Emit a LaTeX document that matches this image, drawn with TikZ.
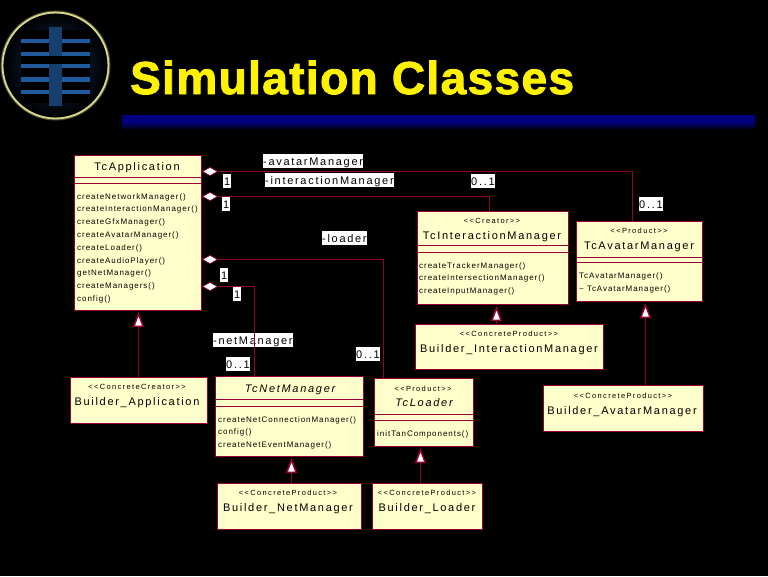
\documentclass[tikz,border=0pt]{standalone}
\usepackage{fontspec}
\usepackage{xcolor}
\usetikzlibrary{shapes.geometric, arrows.meta}
\setmainfont{Liberation Sans}
\newfontfamily\titlefont[LetterSpace=3,BoldFeatures={FakeBold=2}]{Liberation Sans}
\newfontfamily\namefont[LetterSpace=15.5]{Liberation Sans}
\newfontfamily\methodfont[LetterSpace=12]{Liberation Sans}
\newfontfamily\sterfont[LetterSpace=18]{Liberation Sans}
\definecolor{umlred}{HTML}{990033}
\definecolor{umlfill}{HTML}{FFFFCC}
\definecolor{ringcol}{HTML}{D8D890}
\definecolor{logoblue}{HTML}{1F5A9C}
\tikzset{
  classbox/.style={draw=umlred, fill=umlfill, line width=1.2pt, anchor=north west, inner sep=0pt, outer sep=0pt},
  classline/.style={draw=umlred, line width=1.2pt},
  classname/.style={font=\namefont\fontsize{11}{11}\selectfont, anchor=base, inner sep=0pt},
  absname/.style={font=\namefont\itshape\fontsize{11}{11}\selectfont, anchor=base, inner sep=0pt},
  stereotype/.style={font=\sterfont\fontsize{7.5}{8}\selectfont, anchor=base, inner sep=0pt},
  method/.style={font=\methodfont\fontsize{8}{8}\selectfont, anchor=base west, inner sep=0pt},
  rolelabel/.style={fill=white, font=\namefont\fontsize{11}{11}\selectfont, text height=10pt, text depth=2pt, inner xsep=0pt, inner ysep=1pt, anchor=north west},
  multlabel/.style={rolelabel, minimum width=8pt},
  assoc/.style={draw=umlred, line width=1.5pt},
  aggend/.style={diamond, draw=umlred, fill=white, line width=0.6pt, minimum width=15pt, minimum height=8.5pt, inner sep=0pt},
  inherits/.style={draw=umlred, line width=1.5pt, -{Triangle[width=11pt,length=15pt,fill=white]}, shorten >=1.5pt},
}
\begin{document}
\begin{tikzpicture}[x=1pt, y=-1pt]
\useasboundingbox (0,0) rectangle (768,576);
\fill[black] (0,0) rectangle (768,576);

% ==== Logo ====
\draw[ringcol!35!black, line width=4pt] (55.5,65.5) circle (53);
\shade[inner color=logoblue!55!black, outer color=black] (55.5,65.5) circle (52);
\foreach \yy in {38,52,64,77,90} \fill[logoblue] (21,\yy) rectangle (90,\yy+4.5);
\fill[logoblue!70!black] (49,27) rectangle (62,106);
\foreach \yy in {30,43,68,81.5,94} {
  \fill[black] (21,\yy) rectangle (49,\yy+8.5);
  \fill[black] (62,\yy) rectangle (90,\yy+8.5);
}
\fill[black] (21,56) rectangle (90,64);
\draw[ringcol, line width=1.8pt] (55.5,65.5) circle (53);

% ==== Title ====
\node[font=\titlefont\bfseries\fontsize{46}{46}\selectfont, text=yellow, anchor=base west, inner sep=0pt] (title) at (130,94) {Simulation Classes};
\shade[top color=blue!50!black, bottom color=black!85!blue, middle color=blue!50!black] (122,115) rectangle (755,128);

% ==== Classes ====
\node[classbox, minimum width=127pt, minimum height=155pt] (app) at (74.5,155.5) {};
\node[classbox, minimum width=151pt, minimum height=93pt] (interaction) at (417.5,211.5) {};
\node[classbox, minimum width=126pt, minimum height=80pt] (avatar) at (576.5,221.5) {};
\node[classbox, minimum width=148pt, minimum height=80pt] (net) at (215.5,376.5) {};
\node[classbox, minimum width=99pt, minimum height=68pt] (loader) at (374.5,378.5) {};
\node[classbox, minimum width=137pt, minimum height=46pt] (bapp) at (70.5,377.5) {};
\node[classbox, minimum width=188pt, minimum height=45pt] (binteraction) at (415.5,324.5) {};
\node[classbox, minimum width=160pt, minimum height=46pt] (bavatar) at (543.5,385.5) {};
\node[classbox, minimum width=144pt, minimum height=46pt] (bnet) at (217.5,483.5) {};
\node[classbox, minimum width=110pt, minimum height=46pt] (bloader) at (372.5,483.5) {};

% Compartments
\draw[classline] (74.5,177.5) -- (201.5,177.5) (74.5,183.5) -- (201.5,183.5);
\draw[classline] (417.5,245.5) -- (568.5,245.5) (417.5,252.5) -- (568.5,252.5);
\draw[classline] (576.5,257.5) -- (702.5,257.5) (576.5,262.5) -- (702.5,262.5);
\draw[classline] (215.5,399.5) -- (363.5,399.5) (215.5,406.5) -- (363.5,406.5);
\draw[classline] (374.5,414.5) -- (473.5,414.5) (374.5,420.5) -- (473.5,420.5);

% Names
\node[classname] (appname) at (137,170) {TcApplication};
\node[stereotype] (intster) at (492,223) {<<Creator>>};
\node[classname] (intname) at (492,239) {TcInteractionManager};
\node[stereotype] (avster) at (639,233) {<<Product>>};
\node[classname] (avname) at (639,249) {TcAvatarManager};
\node[absname] (netname) at (290,392) {TcNetManager};
\node[stereotype] (loadster) at (423,391) {<<Product>>};
\node[absname] (loadname) at (424,406) {TcLoader};
\node[stereotype] (bappster) at (137,389) {<<ConcreteCreator>>};
\node[classname] (bappname) at (137,405) {Builder\_Application};
\node[stereotype] (bintster) at (509,336) {<<ConcreteProduct>>};
\node[classname] (bintname) at (509,352) {Builder\_InteractionManager};
\node[stereotype] (bavster) at (623,398) {<<ConcreteProduct>>};
\node[classname] (bavname) at (622,414) {Builder\_AvatarManager};
\node[stereotype] (bnetster) at (288,495) {<<ConcreteProduct>>};
\node[classname] (bnetname) at (288,511) {Builder\_NetManager};
\node[stereotype] (bloadster) at (427,495) {<<ConcreteProduct>>};
\node[classname] (bloadname) at (427,511) {Builder\_Loader};

% Methods
\foreach \m [count=\i] in {createNetworkManager(),createInteractionManager(),createGfxManager(),createAvatarManager(),createLoader(),createAudioPlayer(),getNetManager(),createManagers(),config()}
  \node[method] (appm\i) at (77,{199+(\i-1)*12.8}) {\m};
\foreach \m [count=\i] in {createTrackerManager(),createIntersectionManager(),createInputManager()}
  \node[method] (intm\i) at (419,{268+(\i-1)*12.7}) {\m};
\foreach \m [count=\i] in {TcAvatarManager(),\textasciitilde\ TcAvatarManager()}
  \node[method] (avm\i) at (579,{278+(\i-1)*13}) {\m};
\foreach \m [count=\i] in {createNetConnectionManager(),config(),createNetEventManager()}
  \node[method] (netm\i) at (218,{422+(\i-1)*12.5}) {\m};
\node[method] (loadm1) at (377,436) {initTanComponents()};

% Role labels
\node[rolelabel] (lavatar) at (263,154) {-avatarManager};
\node[rolelabel] (linter) at (265,173) {-interactionManager};
\node[rolelabel] (lloader) at (322,231) {-loader};
\node[rolelabel] (lnet) at (213,333) {-netManager};

% Multiplicities
\node[multlabel] (ma1) at (223,174) {1};
\node[multlabel] (mi1) at (222,197) {1};
\node[multlabel] (ml1) at (220,268) {1};
\node[multlabel] (mn1) at (233,287) {1};
\node[rolelabel] (ma2) at (639,197) {0..1};
\node[rolelabel] (mi2) at (471,174) {0..1};
\node[rolelabel] (ml2) at (356,347) {0..1};
\node[rolelabel] (mn2) at (226,357) {0..1};

% Aggregations
\node[aggend] (avend) at (210,171.5) {};
\node[aggend] (intend) at (210,196.5) {};
\node[aggend] (loadend) at (210,259.5) {};
\node[aggend] (netend) at (210,286.5) {};
\coordinate (avtop) at (632.5,221);
\coordinate (inttop) at (489.5,211);
\coordinate (loadtop) at (383.5,378);
\coordinate (nettop) at (254.5,376);
\draw[assoc] (avend) -| (avtop);
\draw[assoc] (intend) -| (inttop);
\draw[assoc] (loadend) -| (loadtop);
\draw[assoc] (netend) -| (nettop);

% Generalizations
\coordinate (bappup) at (138.5,377);
\coordinate (bintup) at (496.5,324);
\coordinate (bavup) at (645.5,385);
\coordinate (bnetup) at (291.5,483);
\coordinate (bloadup) at (420.5,483);
\draw[inherits] (bappup) -- (bappup |- app.south);
\draw[inherits] (bintup) -- (bintup |- interaction.south);
\draw[inherits] (bavup) -- (bavup |- avatar.south);
\draw[inherits] (bnetup) -- (bnetup |- net.south);
\draw[inherits] (bloadup) -- (bloadup |- loader.south);

\end{tikzpicture}
\end{document}
